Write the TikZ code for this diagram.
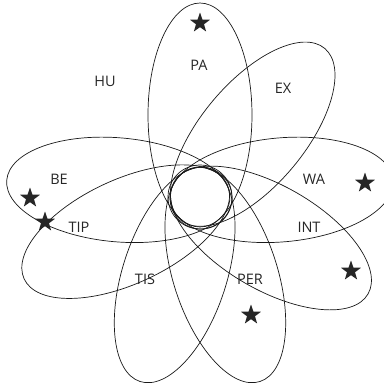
\documentclass[tikz,border=0pt]{standalone}
\usepackage{fontspec}
\setmainfont{Open Sans}
\usetikzlibrary{shapes.geometric}
\begin{document}
\begin{tikzpicture}[x=1pt,y=-1pt,
  petal/.style={draw=black!90, line width=0.7pt},
  lab/.style={font=\fontsize{14.5}{16}\selectfont, text=black!85, inner sep=0pt},
  starmark/.style={star, star points=5, star point ratio=2.5, fill=black!85, draw=none, minimum size=21pt, inner sep=0pt}]
\useasboundingbox (0,0) rectangle (384,383);
\coordinate (C) at (200,197);
\foreach \ang in {90,50,5,-30,-72,-108,-155,175} {
  \draw[petal, rotate around={\ang:(C)}] ([shift={(C)}]0:82pt) ellipse [x radius=112pt, y radius=52pt];
}
\draw[petal] (C) circle [radius=32pt];
\draw[petal] ([shift={(1pt,-1pt)}]C) circle [radius=31pt];
\node[lab] (hu) at (105,81) {HU};
\node[lab] (pa) at (199,65) {PA};
\node[lab] (ex) at (283,88) {EX};
\node[lab] (wa) at (314,179) {WA};
\node[lab] (int) at (309,227) {INT};
\node[lab] (per) at (250,279) {PER};
\node[lab] (tis) at (145,279) {TIS};
\node[lab] (tip) at (79,227) {TIP};
\node[lab] (be) at (59,179) {BE};
\node[starmark] (spa) at (200,23) {};
\node[starmark] (swa) at (365,183) {};
\node[starmark] (sint) at (351,271) {};
\node[starmark] (sper) at (251,315) {};
\node[starmark] (sbe) at (30,198) {};
\node[starmark] (stip) at (45,222) {};
\end{tikzpicture}
\end{document}
